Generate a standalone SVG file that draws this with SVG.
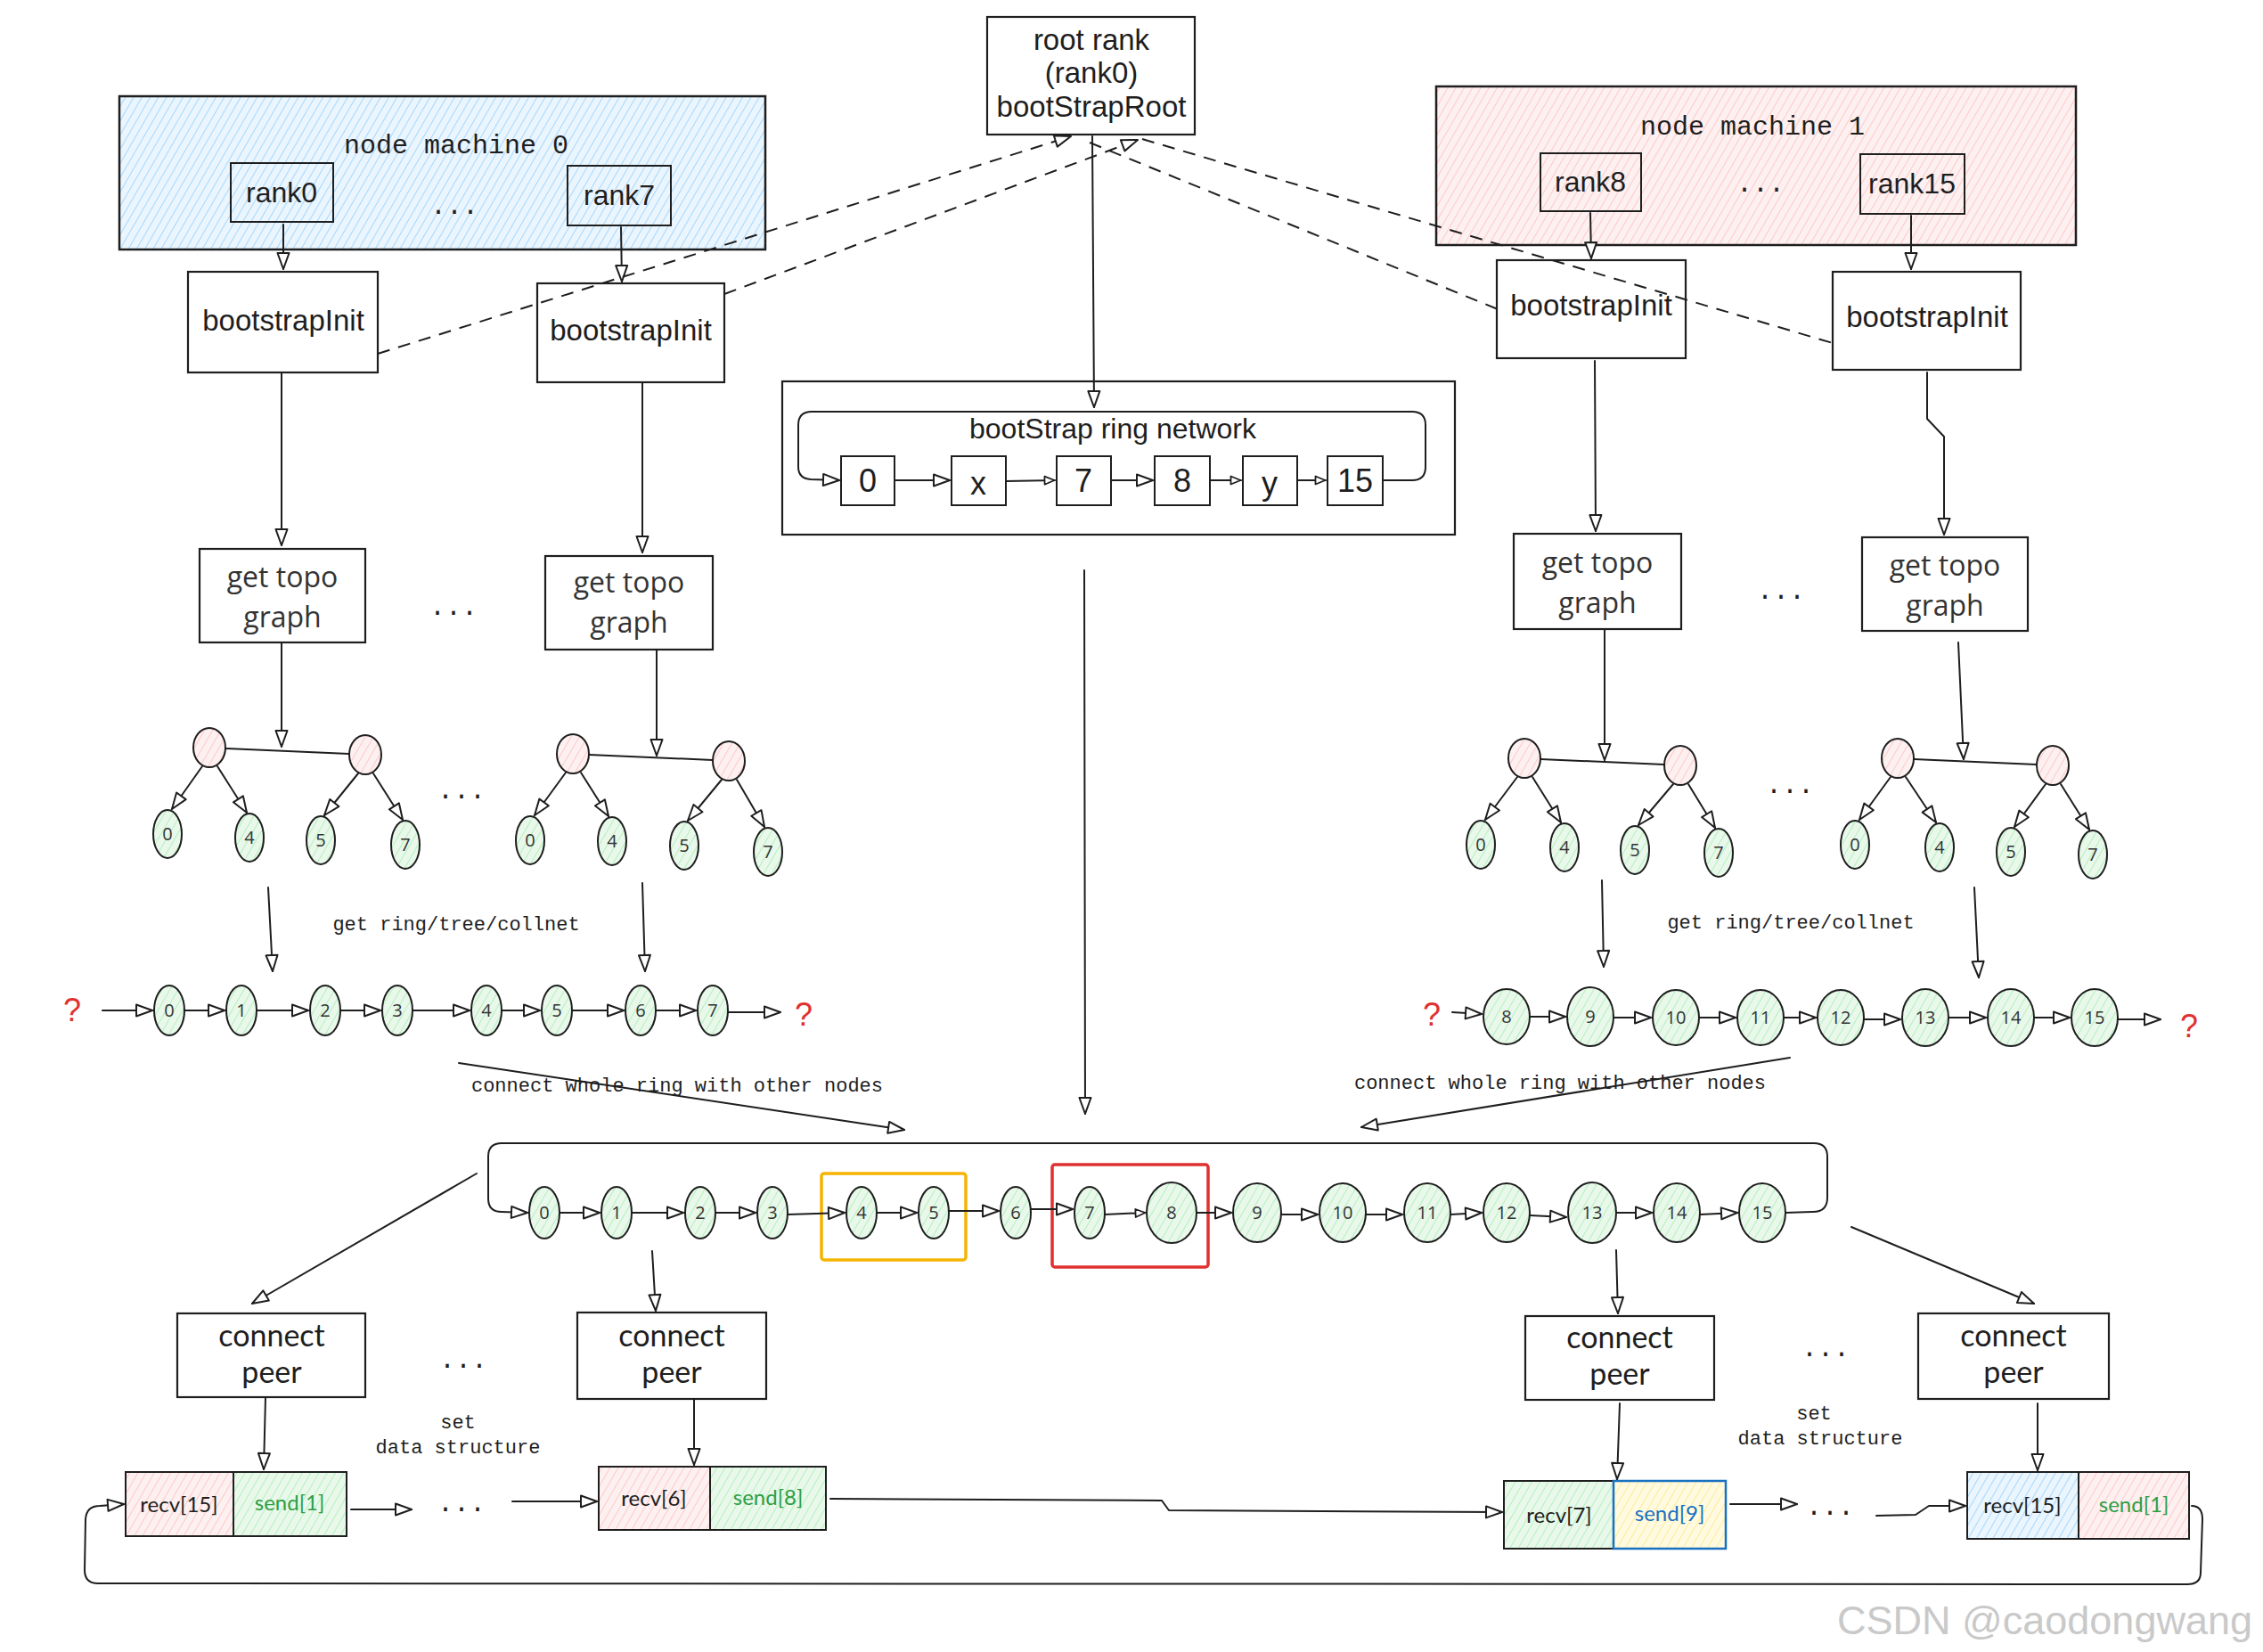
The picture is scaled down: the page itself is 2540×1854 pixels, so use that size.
<svg xmlns="http://www.w3.org/2000/svg" width="2540" height="1854" viewBox="0 0 2540 1854">
<defs>
<style>
.ln{fill:none;stroke:#1e1e1e;stroke-width:2;stroke-linecap:round;stroke-linejoin:round}
.ar{fill:none;stroke:#1e1e1e;stroke-width:2;stroke-linecap:round;stroke-linejoin:round;marker-end:url(#ah)}
.ars{fill:none;stroke:#1e1e1e;stroke-width:2;stroke-linecap:round;stroke-linejoin:round;marker-end:url(#ahs)}
.dash{fill:none;stroke:#1e1e1e;stroke-width:2;stroke-dasharray:14 10}
.dashA{fill:none;stroke:#1e1e1e;stroke-width:2;stroke-dasharray:14 10;marker-end:url(#ah)}
.bx{fill:#fff;stroke:#1e1e1e;stroke-width:2.2}
.ob{fill:none;stroke:#1e1e1e;stroke-width:2}
.sans{font-family:"Liberation Sans",Arial,sans-serif;fill:#1e1e1e;text-anchor:middle}
.mono{font-family:"Liberation Mono","DejaVu Sans Mono",monospace;fill:#1e1e1e;text-anchor:middle}
.rnd{font-family:"Open Sans","Noto Sans",sans-serif;fill:#333;text-anchor:middle}
.hand{font-family:Lato,"Open Sans",sans-serif;fill:#1e1e1e;text-anchor:middle}
.gn{fill:url(#hg);stroke:#1e1e1e;stroke-width:2}
.pk{fill:url(#hp);stroke:#1e1e1e;stroke-width:2}
.q{font-family:"Liberation Sans",Arial,sans-serif;fill:#e03131;font-size:36px;text-anchor:middle}
.t20{font-size:20px}
.t22{font-size:22px}
.t32{font-size:32px}
.dots{font-family:"Liberation Mono",monospace;font-size:30px;fill:#1e1e1e;text-anchor:middle}
</style>
<pattern id="hb" width="8" height="8" patternUnits="userSpaceOnUse" patternTransform="rotate(30)"><rect width="8" height="8" fill="#eaf5fd"/><line x1="0" y1="0" x2="0" y2="8" stroke="#a5d8ff" stroke-width="2"/></pattern>
<pattern id="hp" width="8" height="8" patternUnits="userSpaceOnUse" patternTransform="rotate(30)"><rect width="8" height="8" fill="#fdf0f0"/><line x1="0" y1="0" x2="0" y2="8" stroke="#ffc9c9" stroke-width="2"/></pattern>
<pattern id="hg" width="8" height="8" patternUnits="userSpaceOnUse" patternTransform="rotate(30)"><rect width="8" height="8" fill="#e9f8eb"/><line x1="0" y1="0" x2="0" y2="8" stroke="#b2f2bb" stroke-width="2"/></pattern>
<pattern id="hy" width="8" height="8" patternUnits="userSpaceOnUse" patternTransform="rotate(30)"><rect width="8" height="8" fill="#fffae0"/><line x1="0" y1="0" x2="0" y2="8" stroke="#ffec99" stroke-width="2"/></pattern>
<marker id="ah" viewBox="0 0 22 16" refX="20" refY="8" markerWidth="22" markerHeight="16" markerUnits="userSpaceOnUse" orient="auto"><path d="M2,1.5 L20,8 L2,14.5 Z" fill="#fff" stroke="#1e1e1e" stroke-width="2" stroke-linejoin="round"/></marker>
<marker id="ahs" viewBox="0 0 14 12" refX="13" refY="6" markerWidth="14" markerHeight="12" markerUnits="userSpaceOnUse" orient="auto"><path d="M1.5,1.5 L12.5,6 L1.5,10.5 Z" fill="#fff" stroke="#1e1e1e" stroke-width="1.8" stroke-linejoin="round"/></marker>
</defs>
<rect width="2540" height="1854" fill="#fff"/>

<!-- top nodes -->
<g id="root-rank">
<rect class="bx" x="1108" y="19" width="233" height="132"/>
<text class="sans" font-size="33" x="1225" y="56">root rank</text>
<text class="sans" font-size="33" x="1225" y="93">(rank0)</text>
<text class="sans" font-size="33" x="1225" y="131">bootStrapRoot</text>
</g>

<g id="machine0">
<rect x="134" y="108" width="725" height="172" fill="url(#hb)" stroke="#1e1e1e" stroke-width="2.5"/>
<text class="mono" font-size="30" x="512" y="172">node machine 0</text>
<rect class="ob" x="259" y="183" width="115" height="66"/>
<text class="sans t32" x="316" y="227">rank0</text>
<text class="dots" x="510" y="240">...</text>
<rect class="ob" x="637" y="186" width="116" height="67"/>
<text class="sans t32" x="695" y="230">rank7</text>
</g>

<g id="machine1">
<rect x="1612" y="97" width="718" height="178" fill="url(#hp)" stroke="#1e1e1e" stroke-width="2.5"/>
<text class="mono" font-size="30" x="1967" y="151">node machine 1</text>
<rect class="ob" x="1729" y="172" width="113" height="65"/>
<text class="sans t32" x="1785" y="215">rank8</text>
<text class="dots" x="1976" y="215">...</text>
<rect class="ob" x="2088" y="173" width="117" height="67"/>
<text class="sans t32" x="2146" y="217">rank15</text>
</g>

<g id="bootstrapInit-0"><rect class="bx" x="211" y="305" width="213" height="113"/><text class="sans" font-size="33" x="318" y="371">bootstrapInit</text></g>
<g id="bootstrapInit-7"><rect class="bx" x="603" y="318" width="210" height="111"/><text class="sans" font-size="33" x="708" y="382">bootstrapInit</text></g>
<g id="bootstrapInit-8"><rect class="bx" x="1680" y="292" width="212" height="110"/><text class="sans" font-size="33" x="1786" y="354">bootstrapInit</text></g>
<g id="bootstrapInit-15"><rect class="bx" x="2057" y="305" width="211" height="110"/><text class="sans" font-size="33" x="2163" y="367">bootstrapInit</text></g>

<g id="ring-network">
<rect class="bx" x="878" y="428" width="755" height="172"/>
<text class="sans t32" x="1249" y="492">bootStrap ring network</text>
<rect class="ob" x="944" y="512" width="60" height="55"/><text class="sans" font-size="36" x="974" y="552">0</text>
<rect class="ob" x="1068" y="512" width="61" height="55"/><text class="sans" font-size="36" x="1098" y="555">x</text>
<rect class="ob" x="1186" y="512" width="61" height="55"/><text class="sans" font-size="36" x="1216" y="552">7</text>
<rect class="ob" x="1296" y="512" width="62" height="55"/><text class="sans" font-size="36" x="1327" y="552">8</text>
<rect class="ob" x="1395" y="512" width="61" height="55"/><text class="sans" font-size="36" x="1425" y="555">y</text>
<rect class="ob" x="1490" y="512" width="62" height="55"/><text class="sans" font-size="36" x="1521" y="552">15</text>
</g>

<g id="get-topo-0"><rect class="bx" x="224" y="616" width="186" height="105"/><text class="rnd t32" x="317" y="659">get topo</text><text class="rnd t32" x="317" y="704">graph</text></g>
<g id="get-topo-7"><rect class="bx" x="612" y="624" width="188" height="105"/><text class="rnd t32" x="706" y="665">get topo</text><text class="rnd t32" x="706" y="710">graph</text></g>
<g id="get-topo-8"><rect class="bx" x="1699" y="599" width="188" height="107"/><text class="rnd t32" x="1793" y="643">get topo</text><text class="rnd t32" x="1793" y="688">graph</text></g>
<g id="get-topo-15"><rect class="bx" x="2090" y="603" width="186" height="105"/><text class="rnd t32" x="2183" y="646">get topo</text><text class="rnd t32" x="2183" y="691">graph</text></g>
<text class="dots" x="509" y="690">...</text>
<text class="dots" x="1999" y="672">...</text>

<!-- trees -->
<g id="tree-0">
<ellipse class="pk" cx="235" cy="839" rx="18" ry="22"/><ellipse class="pk" cx="410" cy="847" rx="18" ry="22"/>
<ellipse class="gn" cx="188" cy="936" rx="16" ry="27"/><text class="rnd t20" x="188" y="943">0</text>
<ellipse class="gn" cx="280" cy="940" rx="16" ry="27"/><text class="rnd t20" x="280" y="947">4</text>
<ellipse class="gn" cx="360" cy="943" rx="16" ry="27"/><text class="rnd t20" x="360" y="950">5</text>
<ellipse class="gn" cx="455" cy="948" rx="16" ry="27"/><text class="rnd t20" x="455" y="955">7</text>
</g>
<g id="tree-7">
<ellipse class="pk" cx="643" cy="846" rx="18" ry="22"/><ellipse class="pk" cx="818" cy="854" rx="18" ry="22"/>
<ellipse class="gn" cx="595" cy="943" rx="16" ry="27"/><text class="rnd t20" x="595" y="950">0</text>
<ellipse class="gn" cx="687" cy="944" rx="16" ry="27"/><text class="rnd t20" x="687" y="951">4</text>
<ellipse class="gn" cx="768" cy="949" rx="16" ry="27"/><text class="rnd t20" x="768" y="956">5</text>
<ellipse class="gn" cx="862" cy="956" rx="16" ry="27"/><text class="rnd t20" x="862" y="963">7</text>
</g>
<g id="tree-8">
<ellipse class="pk" cx="1711" cy="851" rx="18" ry="22"/><ellipse class="pk" cx="1886" cy="859" rx="18" ry="22"/>
<ellipse class="gn" cx="1662" cy="948" rx="16" ry="27"/><text class="rnd t20" x="1662" y="955">0</text>
<ellipse class="gn" cx="1756" cy="951" rx="16" ry="27"/><text class="rnd t20" x="1756" y="958">4</text>
<ellipse class="gn" cx="1835" cy="954" rx="16" ry="27"/><text class="rnd t20" x="1835" y="961">5</text>
<ellipse class="gn" cx="1929" cy="957" rx="16" ry="27"/><text class="rnd t20" x="1929" y="964">7</text>
</g>
<g id="tree-15">
<ellipse class="pk" cx="2130" cy="851" rx="18" ry="22"/><ellipse class="pk" cx="2304" cy="859" rx="18" ry="22"/>
<ellipse class="gn" cx="2082" cy="948" rx="16" ry="27"/><text class="rnd t20" x="2082" y="955">0</text>
<ellipse class="gn" cx="2177" cy="951" rx="16" ry="27"/><text class="rnd t20" x="2177" y="958">4</text>
<ellipse class="gn" cx="2257" cy="956" rx="16" ry="27"/><text class="rnd t20" x="2257" y="963">5</text>
<ellipse class="gn" cx="2349" cy="959" rx="16" ry="27"/><text class="rnd t20" x="2349" y="966">7</text>
</g>
<text class="dots" x="518" y="896">...</text>
<text class="dots" x="2009" y="890">...</text>

<text class="mono t22" x="512" y="1044">get ring/tree/collnet</text>
<text class="mono t22" x="2010" y="1042">get ring/tree/collnet</text>

<!-- left ring -->
<g id="ring-left">
<text class="q" x="81" y="1146">?</text>
<ellipse class="gn" cx="190" cy="1134" rx="17" ry="28"/><text class="rnd t20" x="190" y="1141">0</text>
<ellipse class="gn" cx="271" cy="1134" rx="17" ry="28"/><text class="rnd t20" x="271" y="1141">1</text>
<ellipse class="gn" cx="365" cy="1134" rx="17" ry="28"/><text class="rnd t20" x="365" y="1141">2</text>
<ellipse class="gn" cx="446" cy="1134" rx="17" ry="28"/><text class="rnd t20" x="446" y="1141">3</text>
<ellipse class="gn" cx="546" cy="1134" rx="17" ry="28"/><text class="rnd t20" x="546" y="1141">4</text>
<ellipse class="gn" cx="625" cy="1134" rx="17" ry="28"/><text class="rnd t20" x="625" y="1141">5</text>
<ellipse class="gn" cx="719" cy="1134" rx="17" ry="28"/><text class="rnd t20" x="719" y="1141">6</text>
<ellipse class="gn" cx="800" cy="1134" rx="17" ry="28"/><text class="rnd t20" x="800" y="1141">7</text>
<text class="q" x="902" y="1151">?</text>
</g>
<!-- right ring -->
<g id="ring-right">
<text class="q" x="1607" y="1151">?</text>
<ellipse class="gn" cx="1691" cy="1141" rx="26" ry="31"/><text class="rnd t20" x="1691" y="1148">8</text>
<ellipse class="gn" cx="1785" cy="1141" rx="26" ry="33"/><text class="rnd t20" x="1785" y="1148">9</text>
<ellipse class="gn" cx="1881" cy="1142" rx="26" ry="31"/><text class="rnd t20" x="1881" y="1149">10</text>
<ellipse class="gn" cx="1976" cy="1142" rx="26" ry="31"/><text class="rnd t20" x="1976" y="1149">11</text>
<ellipse class="gn" cx="2066" cy="1142" rx="26" ry="31"/><text class="rnd t20" x="2066" y="1149">12</text>
<ellipse class="gn" cx="2161" cy="1142" rx="26" ry="32"/><text class="rnd t20" x="2161" y="1149">13</text>
<ellipse class="gn" cx="2257" cy="1142" rx="26" ry="32"/><text class="rnd t20" x="2257" y="1149">14</text>
<ellipse class="gn" cx="2351" cy="1142" rx="26" ry="32"/><text class="rnd t20" x="2351" y="1149">15</text>
<text class="q" x="2457" y="1164">?</text>
</g>

<text class="mono t22" x="760" y="1225">connect whole ring with other nodes</text>
<text class="mono t22" x="1751" y="1222">connect whole ring with other nodes</text>

<!-- whole ring -->
<g id="ring-whole">
<rect x="922" y="1317" width="162" height="97" rx="3" fill="none" stroke="#f5b400" stroke-width="3.5"/>
<rect x="1181" y="1307" width="175" height="115" rx="3" fill="none" stroke="#e03131" stroke-width="3.5"/>
<ellipse class="gn" cx="611" cy="1361" rx="17" ry="29"/><text class="rnd t20" x="611" y="1368">0</text>
<ellipse class="gn" cx="692" cy="1361" rx="17" ry="29"/><text class="rnd t20" x="692" y="1368">1</text>
<ellipse class="gn" cx="786" cy="1361" rx="17" ry="29"/><text class="rnd t20" x="786" y="1368">2</text>
<ellipse class="gn" cx="867" cy="1361" rx="17" ry="29"/><text class="rnd t20" x="867" y="1368">3</text>
<ellipse class="gn" cx="967" cy="1361" rx="17" ry="29"/><text class="rnd t20" x="967" y="1368">4</text>
<ellipse class="gn" cx="1048" cy="1361" rx="17" ry="29"/><text class="rnd t20" x="1048" y="1368">5</text>
<ellipse class="gn" cx="1140" cy="1361" rx="17" ry="29"/><text class="rnd t20" x="1140" y="1368">6</text>
<ellipse class="gn" cx="1223" cy="1361" rx="17" ry="29"/><text class="rnd t20" x="1223" y="1368">7</text>
<ellipse class="gn" cx="1315" cy="1361" rx="28" ry="34"/><text class="rnd t20" x="1315" y="1368">8</text>
<ellipse class="gn" cx="1411" cy="1361" rx="27" ry="33"/><text class="rnd t20" x="1411" y="1368">9</text>
<ellipse class="gn" cx="1507" cy="1361" rx="26" ry="33"/><text class="rnd t20" x="1507" y="1368">10</text>
<ellipse class="gn" cx="1602" cy="1361" rx="26" ry="33"/><text class="rnd t20" x="1602" y="1368">11</text>
<ellipse class="gn" cx="1691" cy="1361" rx="26" ry="33"/><text class="rnd t20" x="1691" y="1368">12</text>
<ellipse class="gn" cx="1787" cy="1361" rx="27" ry="34"/><text class="rnd t20" x="1787" y="1368">13</text>
<ellipse class="gn" cx="1882" cy="1361" rx="26" ry="33"/><text class="rnd t20" x="1882" y="1368">14</text>
<ellipse class="gn" cx="1978" cy="1361" rx="26" ry="33"/><text class="rnd t20" x="1978" y="1368">15</text>
</g>

<!-- connect peer -->
<g id="connect-peer-0"><rect class="bx" x="199" y="1474" width="211" height="94"/><text class="hand" font-size="34" x="305" y="1511">connect</text><text class="hand" font-size="34" x="305" y="1552">peer</text></g>
<g id="connect-peer-7"><rect class="bx" x="648" y="1473" width="212" height="97"/><text class="hand" font-size="34" x="754" y="1511">connect</text><text class="hand" font-size="34" x="754" y="1552">peer</text></g>
<g id="connect-peer-8"><rect class="bx" x="1712" y="1477" width="212" height="94"/><text class="hand" font-size="34" x="1818" y="1513">connect</text><text class="hand" font-size="34" x="1818" y="1554">peer</text></g>
<g id="connect-peer-15"><rect class="bx" x="2153" y="1474" width="214" height="96"/><text class="hand" font-size="34" x="2260" y="1511">connect</text><text class="hand" font-size="34" x="2260" y="1552">peer</text></g>
<text class="dots" x="520" y="1535">...</text>
<text class="dots" x="2049" y="1522">...</text>
<text class="mono t22" x="514" y="1603">set</text>
<text class="mono t22" x="514" y="1631">data structure</text>
<text class="mono t22" x="2036" y="1593">set</text>
<text class="mono t22" x="2043" y="1621">data structure</text>

<!-- data structures -->
<g id="data-0">
<rect x="141" y="1652" width="121" height="72" fill="url(#hp)" stroke="#1e1e1e" stroke-width="2"/>
<rect x="262" y="1652" width="127" height="72" fill="url(#hg)" stroke="#1e1e1e" stroke-width="2"/>
<text class="hand" font-size="24" x="201" y="1697">recv[15]</text>
<text class="hand" font-size="24" x="325" y="1695" style="fill:#2f9e44">send[1]</text>
</g>
<g id="data-7">
<rect x="672" y="1646" width="125" height="71" fill="url(#hp)" stroke="#1e1e1e" stroke-width="2"/>
<rect x="797" y="1646" width="130" height="71" fill="url(#hg)" stroke="#1e1e1e" stroke-width="2"/>
<text class="hand" font-size="24" x="734" y="1690">recv[6]</text>
<text class="hand" font-size="24" x="862" y="1689" style="fill:#2f9e44">send[8]</text>
</g>
<g id="data-8">
<rect x="1688" y="1662" width="123" height="76" fill="url(#hg)" stroke="#1e1e1e" stroke-width="2"/>
<rect x="1811" y="1662" width="126" height="76" fill="url(#hy)" stroke="#1971c2" stroke-width="2.5"/>
<text class="hand" font-size="24" x="1750" y="1709">recv[7]</text>
<text class="hand" font-size="24" x="1874" y="1707" style="fill:#1971c2">send[9]</text>
</g>
<g id="data-15">
<rect x="2208" y="1652" width="125" height="75" fill="url(#hb)" stroke="#1e1e1e" stroke-width="2"/>
<rect x="2333" y="1652" width="124" height="75" fill="url(#hp)" stroke="#1e1e1e" stroke-width="2"/>
<text class="hand" font-size="24" x="2270" y="1698">recv[15]</text>
<text class="hand" font-size="24" x="2395" y="1697" style="fill:#2f9e44">send[1]</text>
</g>
<text class="dots" x="518" y="1696">...</text>
<text class="dots" x="2054" y="1700">...</text>

<!-- connectors -->
<g id="connectors">
<path class="ar" d="M318 252 L318 302"/>
<path class="ar" d="M697 255 L698 316"/>
<path class="ar" d="M1785 239 L1786 290"/>
<path class="ar" d="M2145 242 L2145 302"/>
<path class="dashA" d="M424 397 L1202 153"/>
<path class="dashA" d="M813 330 L1277 157"/>
<path class="dash" d="M1223 160 L1681 347"/>
<path class="dash" d="M1282 156 L2057 385"/>
<path class="ar" d="M1226 153 L1228 457"/>
<path class="ar" d="M1004 539 L1066 539"/>
<path class="ars" d="M1129 540 L1184 539"/>
<path class="ar" d="M1247 539 L1294 539"/>
<path class="ars" d="M1358 539 L1393 539"/>
<path class="ars" d="M1456 539 L1488 539"/>
<path class="ar" d="M1552 539 L1585 539 Q1600 539 1600 524 L1600 477 Q1600 462 1585 462 L911 462 Q896 462 896 477 L896 524 Q896 537 910 538 L942 539"/>
<path class="ar" d="M1217 640 L1218 1250"/>
<path class="ar" d="M316 418 L316 612"/>
<path class="ar" d="M721 429 L721 620"/>
<path class="ar" d="M1790 405 L1791 596"/>
<path class="ar" d="M2163 418 L2163 470 L2182 490 L2182 600"/>
<path class="ar" d="M316 721 L316 838"/>
<path class="ln" d="M253 840 L392 846"/>
<path class="ar" d="M227 860 L193 908"/><path class="ar" d="M244 860 L277 912"/><path class="ar" d="M402 868 L364 915"/><path class="ar" d="M419 868 L452 920"/>
<path class="ar" d="M737 729 L737 848"/>
<path class="ln" d="M661 847 L800 853"/>
<path class="ar" d="M635 867 L600 915"/><path class="ar" d="M652 867 L683 916"/><path class="ar" d="M810 875 L772 921"/><path class="ar" d="M827 875 L858 928"/>
<path class="ar" d="M1801 706 L1801 853"/>
<path class="ln" d="M1729 852 L1868 858"/>
<path class="ar" d="M1703 872 L1667 920"/><path class="ar" d="M1720 872 L1752 923"/><path class="ar" d="M1878 880 L1839 926"/><path class="ar" d="M1895 880 L1925 929"/>
<path class="ar" d="M2198 721 L2204 852"/>
<path class="ln" d="M2148 852 L2286 858"/>
<path class="ar" d="M2122 872 L2087 920"/><path class="ar" d="M2139 872 L2173 923"/><path class="ar" d="M2296 880 L2261 928"/><path class="ar" d="M2313 880 L2345 931"/>
<path class="ar" d="M301 996 L306 1090"/>
<path class="ar" d="M721 991 L724 1090"/>
<path class="ar" d="M1798 988 L1800 1085"/>
<path class="ar" d="M2216 996 L2221 1097"/>
<path class="ar" d="M115 1134 L171 1134"/><path class="ar" d="M207 1134 L252 1134"/><path class="ar" d="M288 1134 L346 1134"/><path class="ar" d="M382 1134 L427 1134"/><path class="ar" d="M463 1134 L527 1134"/><path class="ar" d="M563 1134 L606 1134"/><path class="ar" d="M642 1134 L700 1134"/><path class="ar" d="M736 1134 L781 1134"/><path class="ar" d="M817 1136 L876 1136"/>
<path class="ar" d="M1630 1136 L1663 1138"/><path class="ar" d="M1717 1141 L1757 1141"/><path class="ar" d="M1811 1142 L1853 1142"/><path class="ar" d="M1907 1142 L1948 1142"/><path class="ar" d="M2002 1142 L2038 1142"/><path class="ar" d="M2092 1144 L2133 1144"/><path class="ar" d="M2187 1142 L2229 1142"/><path class="ar" d="M2283 1142 L2323 1142"/><path class="ar" d="M2377 1144 L2425 1144"/>
<path class="ar" d="M515 1193 L1015 1268"/>
<path class="ar" d="M2009 1187 L1528 1265"/>
<path class="ar" d="M2004 1361 L2035 1360 Q2051 1360 2051 1344 L2051 1298 Q2051 1283 2036 1283 L563 1283 Q548 1283 548 1298 L548 1345 Q548 1360 563 1360 L592 1361"/>
<path class="ar" d="M628 1361 L673 1361"/><path class="ar" d="M709 1361 L767 1361"/><path class="ar" d="M803 1361 L848 1361"/><path class="ar" d="M884 1363 L948 1361"/><path class="ar" d="M984 1361 L1029 1361"/><path class="ar" d="M1065 1359 L1121 1359"/><path class="ar" d="M1157 1357 L1204 1357"/><path class="ars" d="M1240 1363 L1286 1361"/><path class="ar" d="M1343 1361 L1382 1361"/><path class="ar" d="M1438 1363 L1479 1363"/><path class="ar" d="M1533 1363 L1574 1363"/><path class="ar" d="M1628 1363 L1663 1361"/><path class="ar" d="M1717 1364 L1758 1366"/><path class="ar" d="M1814 1361 L1854 1361"/><path class="ar" d="M1908 1363 L1950 1361"/>
<path class="ar" d="M535 1317 L283 1463"/>
<path class="ar" d="M732 1404 L736 1471"/>
<path class="ar" d="M1814 1403 L1816 1474"/>
<path class="ar" d="M2078 1377 L2283 1463"/>
<path class="ar" d="M298 1568 L296 1649"/>
<path class="ar" d="M779 1571 L779 1644"/>
<path class="ar" d="M1818 1575 L1815 1660"/>
<path class="ar" d="M2287 1575 L2287 1650"/>
<path class="ar" d="M394 1694 L462 1694"/>
<path class="ar" d="M575 1685 L670 1685"/>
<path class="ar" d="M932 1682 L1304 1684 L1312 1695 L1686 1697"/>
<path class="ar" d="M1942 1688 L2017 1688"/>
<path class="ar" d="M2106 1701 L2150 1700 L2165 1690 L2206 1690"/>
<path class="ar" d="M2460 1690 Q2472 1690 2472 1705 L2470 1765 Q2470 1778 2455 1778 L110 1777 Q95 1777 95 1762 L96 1705 Q97 1690 112 1690 L139 1688"/>
</g>

<text x="2528" y="1834" font-family="'Liberation Sans',Arial,sans-serif" font-size="45" fill="#c9c9c9" text-anchor="end">CSDN @caodongwang</text>
</svg>
